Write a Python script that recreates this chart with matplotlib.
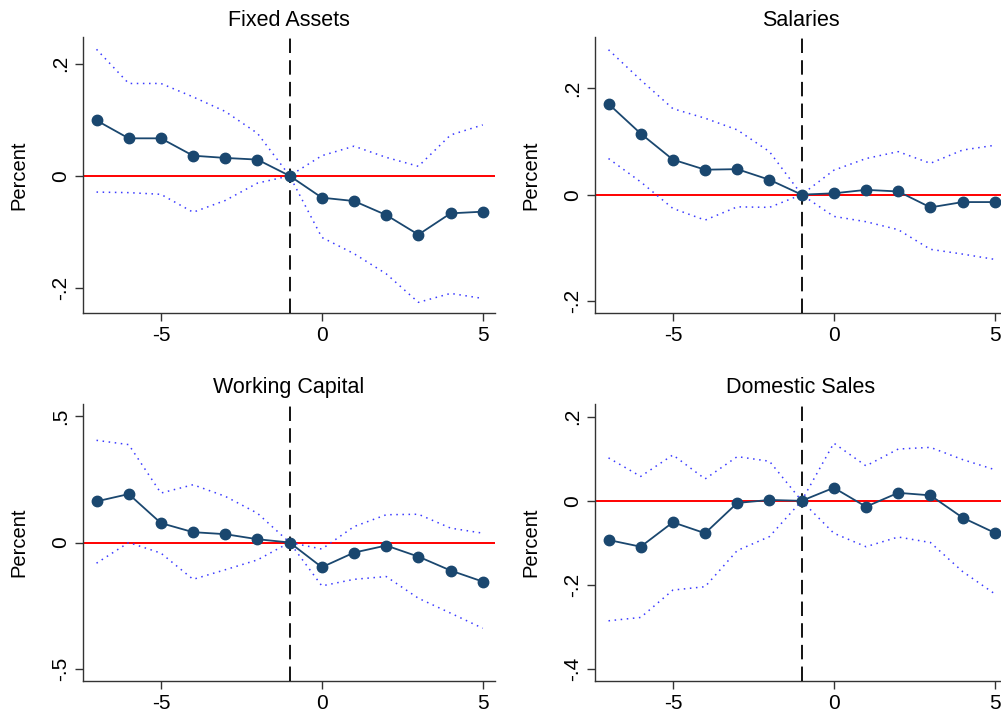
"""Event-study panels: coefficients with confidence bands, four outcomes."""

import matplotlib

matplotlib.use("Agg")
import matplotlib.pyplot as plt  # noqa: E402

plt.rcParams["font.family"] = ["Liberation Sans", "DejaVu Sans"]

years = [-7, -6, -5, -4, -3, -2, -1, 0, 1, 2, 3, 4, 5]

fixed_coef = [0.099, 0.067, 0.067, 0.036, 0.032, 0.029, 0.0, -0.039, -0.045, -0.070, -0.105, -0.067, -0.064]
fixed_hi = [0.226, 0.165, 0.165, 0.141, 0.115, 0.076, 0.0, 0.036, 0.053, 0.033, 0.017, 0.073, 0.091]
fixed_lo = [-0.029, -0.030, -0.033, -0.065, -0.044, -0.013, 0.0, -0.110, -0.139, -0.175, -0.226, -0.210, -0.219]

sal_coef = [0.171, 0.115, 0.066, 0.047, 0.048, 0.028, 0.0, 0.0025, 0.009, 0.006, -0.024, -0.014, -0.014]
sal_hi = [0.273, 0.216, 0.162, 0.144, 0.122, 0.081, 0.0, 0.046, 0.068, 0.081, 0.059, 0.084, 0.093]
sal_lo = [0.068, 0.024, -0.026, -0.048, -0.023, -0.024, 0.0, -0.041, -0.051, -0.066, -0.103, -0.112, -0.122]

wc_coef = [0.163, 0.192, 0.077, 0.041, 0.033, 0.013, 0.0, -0.098, -0.040, -0.012, -0.056, -0.111, -0.155]
wc_hi = [0.405, 0.388, 0.196, 0.229, 0.183, 0.116, 0.0, -0.026, 0.063, 0.110, 0.112, 0.057, 0.037]
wc_lo = [-0.082, 0.0, -0.042, -0.146, -0.108, -0.069, 0.0, -0.172, -0.146, -0.135, -0.221, -0.280, -0.340]

dom_coef = [-0.093, -0.109, -0.051, -0.077, -0.005, 0.002, 0.0, 0.031, -0.014, 0.019, 0.013, -0.040, -0.076]
dom_hi = [0.102, 0.058, 0.109, 0.052, 0.105, 0.094, 0.0, 0.137, 0.083, 0.123, 0.127, 0.098, 0.074]
dom_lo = [-0.285, -0.277, -0.212, -0.204, -0.118, -0.085, 0.0, -0.077, -0.109, -0.086, -0.099, -0.168, -0.221]

panels = [
    ("Fixed Assets", fixed_coef, fixed_hi, fixed_lo, (-0.245, 0.248), [-0.2, 0, 0.2], ["-.2", "0", ".2"]),
    ("Salaries", sal_coef, sal_hi, sal_lo, (-0.223, 0.297), [-0.2, 0, 0.2], ["-.2", "0", ".2"]),
    ("Working Capital", wc_coef, wc_hi, wc_lo, (-0.549, 0.549), [-0.5, 0, 0.5], ["-.5", "0", ".5"]),
    ("Domestic Sales", dom_coef, dom_hi, dom_lo, (-0.428, 0.230),
     [-0.4, -0.2, 0, 0.2], ["-.4", "-.2", "0", ".2"]),
]

W, H = 1001, 713
# axes boxes in pixels: left, top, width, height
boxes = [(83, 37, 412, 276), (595, 37, 412, 276), (83, 404, 412, 277), (595, 404, 412, 277)]

NAVY = "#1a476f"

fig = plt.figure(figsize=(W / 100, H / 100), dpi=100)

for (title, coef, hi, lo, ylim, yt, ytl), (l, t, w, h) in zip(panels, boxes):
    ax = fig.add_axes([l / W, 1 - (t + h) / H, w / W, h / H])
    ax.axhline(0, color="red", lw=1.4, zorder=1)
    ax.plot(years, hi, ls=(0, (1, 3)), color="#3a3aff", lw=1.1, zorder=2)
    ax.plot(years, lo, ls=(0, (1, 3)), color="#3a3aff", lw=1.1, zorder=2)
    ax.axvline(-1, color="black", lw=1.3, ls=(0, (8, 4)), zorder=3)
    ax.plot(years, coef, "-o", color=NAVY, lw=1.3, ms=7.5, zorder=4)

    ax.set_xlim(-7.42, 5.38)
    ax.set_ylim(*ylim)
    ax.set_xticks([-5, 0, 5])
    ax.set_xticklabels(["-5", "0", "5"])
    ax.set_yticks(yt)
    ax.set_yticklabels(ytl, rotation=90, va="center")
    ax.set_ylabel("Percent", fontsize=14.5, labelpad=16)
    ax.set_title(title, fontsize=15.5, pad=8)

    for side in ("top", "right"):
        ax.spines[side].set_visible(False)
    for side in ("left", "bottom"):
        ax.spines[side].set_color("#333333")
        ax.spines[side].set_linewidth(1.0)
    ax.tick_params(labelsize=15, length=6, width=1.0, color="#333333", direction="out")

fig.savefig("out.png", dpi=100)
